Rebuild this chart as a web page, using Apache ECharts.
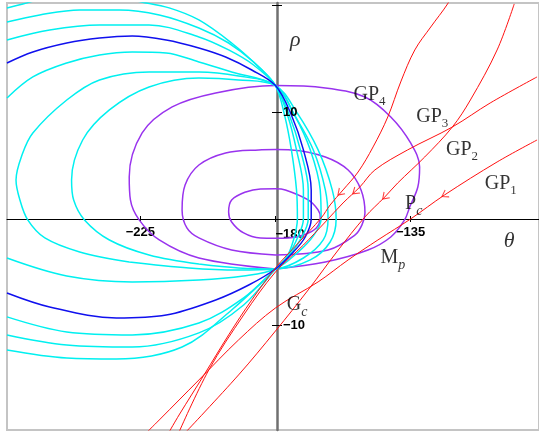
<!DOCTYPE html>
<html>
<head>
<meta charset="utf-8">
<script src="https://cdn.jsdelivr.net/npm/echarts@6.0.0/dist/echarts.min.js"></script>
<style>
html,body{margin:0;padding:0;background:#fff;}
#chart{width:539px;height:432px;}
</style>
</head>
<body>
<div id="chart"></div>
<script>
// Nichols-plane view: phase theta (deg) against gain rho (dB)
const thetaRange = [-269.4, -92.25];
const rhoRange = [-19.78, 20.24];
const thetaTickValues = [-225, -180, -135];
const thetaSideLabels = [-225, -135];
const thetaOriginLabel = [-180];
const rhoTickValues = [-10, 10, 20];
const rhoLabelValues = [-10, 10];

// constant-phase loci through the two common points
const locusA = [[-269.4,-12.28],[-249.5,-13.03],[-233.0,-13.12],[-211.1,-12.0],[-194.6,-8.53],[-180,-4.69],[-176.4,-3.66],[-174.0,-1.97],[-172.7,0],[-173.0,2.72],[-174.7,6.47],[-177.0,9.75],[-180,12.5],[-185.6,14.25],[-194.6,16.49],[-205.5,18.65],[-215.4,19.78],[-224.7,20.34],[-238.6,21.09],[-251.9,20.99],[-264.1,20.15],[-269.4,19.78]];
const locusB = [[-269.4,-10.87],[-249.5,-11.81],[-227.7,-12.0],[-205.5,-10.68],[-190.6,-8.06],[-180,-4.69],[-175.7,-3.37],[-172.7,-1.78],[-170.7,0],[-170.7,2.72],[-173.0,6.47],[-176.0,9.75],[-180,12.5],[-187.3,14.71],[-195.6,16.49],[-205.5,17.9],[-218.7,19.12],[-232.0,19.59],[-245.2,19.59],[-258.5,19.12],[-269.4,18.46]];
const locusC = [[-269.4,-9.18],[-249.5,-10.59],[-227.7,-10.87],[-205.5,-9.75],[-190.6,-7.4],[-180,-4.69],[-175.0,-3.28],[-171.4,-1.78],[-169.1,0],[-169.1,2.72],[-171.7,6.47],[-175.4,9.75],[-180,12.5],[-187.3,14.43],[-195.6,15.84],[-205.5,17.06],[-222.1,18.18],[-238.6,18.18],[-255.2,17.71],[-269.4,16.78]];
const locusD = [[-269.4,-6.94],[-255.2,-8.25],[-233.0,-9.28],[-216.4,-9.0],[-199.9,-7.59],[-188.9,-6.19],[-180,-4.69],[-174.0,-3.09],[-170.1,-1.69],[-168.1,0],[-168.1,2.72],[-170.7,6.47],[-174.7,9.75],[-180,12.5],[-187.9,13.96],[-196.6,15.18],[-205.5,16.03],[-216.4,16.78],[-227.7,17.15],[-238.6,16.96],[-249.5,16.49],[-260.8,15.65],[-269.4,14.62]];
const locusE = [[-269.4,-3.66],[-249.5,-5.34],[-227.7,-5.9],[-205.5,-5.72],[-190.6,-5.34],[-180,-4.69],[-172.4,-3.09],[-167.4,-1.59],[-164.8,0],[-165.1,2.72],[-168.4,6.47],[-173.7,9.75],[-180,12.5],[-194.6,13.78],[-205.5,14.71],[-216.4,15.56],[-227.7,15.65],[-238.6,15.37],[-249.5,14.62],[-260.8,13.31],[-269.4,11.34]];
const locusF = [[-228.7,-4.03],[-208.8,-4.59],[-192.3,-4.78],[-180,-4.69],[-170.7,-3.66],[-164.1,-1.97],[-162.5,0],[-163.4,2.72],[-167.4,6.47],[-173.7,9.75],[-180,12.5],[-192.3,13.4],[-205.5,13.78],[-222.1,13.78],[-238.6,13.03],[-249.5,11.15],[-260.8,8.06],[-264.4,6.0],[-266.4,3.66],[-265.1,1.78],[-262.5,-0.09],[-256.8,-1.78],[-245.2,-3.09],[-228.7,-4.03]];
const locusG = [[-205.5,-4.22],[-192.3,-4.59],[-180,-4.69],[-168.4,-3.84],[-161.8,-2.16],[-159.8,0],[-161.1,2.72],[-165.8,6.47],[-173.0,10.03],[-180,12.5],[-192.3,13.03],[-205.5,13.21],[-222.1,12.37],[-235.3,10.22],[-244.2,7.4],[-247.9,3.66],[-247.2,1.78],[-243.6,-0.09],[-235.3,-1.97],[-222.1,-3.37],[-205.5,-4.22]];

// constant-magnitude loci around the critical point
const magOuter = [[-180,-4.69],[-205.5,-3.66],[-218.7,-1.97],[-225.4,-0.09],[-228.3,1.78],[-228.7,3.94],[-224.4,8.06],[-214.4,10.5],[-199.9,11.81],[-180,12.5],[-163.4,12.28],[-150.2,11.43],[-141.6,9.56],[-135.0,7.12],[-132.0,4.87],[-132.6,3.0],[-135.3,1.12],[-137.0,-0.09],[-141.6,-1.69],[-149.2,-2.91],[-163.4,-4.03],[-180,-4.69]];
const magMiddle = [[-180,-3.37],[-194.6,-2.91],[-205.5,-1.78],[-209.5,-0.84],[-211.1,0.84],[-210.1,3.19],[-205.5,5.06],[-196.6,6.19],[-185.6,6.47],[-180,6.5],[-174.7,6.47],[-163.4,5.81],[-155.8,4.59],[-151.5,2.72],[-150.2,0.56],[-151.2,-0.56],[-153.5,-1.5],[-162.5,-2.91],[-180,-3.37]];
const magInner = [[-180,-1.8],[-185.0,-1.78],[-190.6,-1.31],[-194.6,-0.28],[-195.6,0.66],[-194.6,1.78],[-189.9,2.53],[-185.0,2.81],[-180,2.83],[-176.7,2.72],[-169.1,1.78],[-165.8,0.84],[-165.1,0.19],[-166.4,-0.84],[-170.7,-1.5],[-175.7,-1.78],[-180,-1.8]];

// open-loop responses GP1..GP4
const gp1 = [[-92.9,7.4],[-106.2,5.34],[-123.7,2.25],[-135.0,0],[-145.9,-1.97],[-155.8,-3.84],[-165.8,-5.9],[-180,-8.34],[-192.3,-11.34],[-205.5,-15.09],[-218.7,-18.84],[-223.7,-20.24]];
const gp2 = [[-100.5,20.15],[-106.2,15.84],[-115.1,11.15],[-121.1,8.62],[-130.3,5.81],[-139.3,3.37],[-143.6,2.06],[-150.2,0.19],[-159.1,-2.91],[-169.1,-6.65],[-180,-10.5],[-192.3,-14.62],[-209.8,-19.96]];
const gp3 = [[-92.9,13.31],[-108.5,10.87],[-121.1,8.62],[-136.0,6.47],[-146.9,4.59],[-151.9,3.0],[-157.5,1.5],[-163.4,-0.28],[-170.7,-2.44],[-180,-4.97],[-190.6,-9.0],[-202.2,-14.15],[-212.1,-19.96]];
const gp4 = [[-121.1,21.09],[-122.7,20.15],[-128.3,17.99],[-133.6,15.84],[-138.3,12.84],[-142.6,9.56],[-147.5,6.75],[-152.5,4.4],[-157.5,2.72],[-161.8,1.31],[-164.8,0.09],[-172.4,-2.25],[-180,-4.59],[-187.9,-7.59],[-195.6,-10.87],[-203.8,-14.62],[-212.1,-18.37],[-215.4,-19.96]];
const arrowTips = [[-123.7,2.25],[-143.6,2.06],[-153.5,2.53],[-158.5,2.44]];
const arrowAngles = [-60, -45, -50, -45];

// annotations
const notes = [
  {text: '{i|ρ}', at: [-173.4, 16.78], pos: 'inside'},
  {text: '{i|θ}', at: [-102.2, -2.06], pos: 'inside'},
  {text: '{m|GP}{s|4}', at: [-154.2, 11.62], pos: 'right'},
  {text: '{m|GP}{s|3}', at: [-133.3, 9.56], pos: 'right'},
  {text: '{m|GP}{s|2}', at: [-123.4, 6.47], pos: 'right'},
  {text: '{m|GP}{s|1}', at: [-110.5, 3.28], pos: 'right'},
  {text: '{m|P}{si|c}', at: [-137.0, 1.41], pos: 'right'},
  {text: '{m|M}{si|p}', at: [-145.2, -3.66], pos: 'right'},
  {text: '{m|G}{si|c}', at: [-176.4, -8.06], pos: 'right'}
];

const CYAN = '#00f0f0', BLUE = '#1010ee', PURPLE = '#9933ee', RED = '#ff1010';
const serif = '"Liberation Serif", "DejaVu Serif", serif';
const axisFont = {fontFamily: '"Liberation Sans", Arial, sans-serif', fontWeight: 'bold', fontSize: 13, color: '#000'};
const minus = v => (v < 0 ? '\u2212' + Math.abs(v) : String(v));

function curve(data, color, width, z) {
  return {type: 'line', data, symbol: 'none', smooth: 0.35, silent: true, z,
    lineStyle: {color, width}};
}

const series = [
  curve(magInner, PURPLE, 1.5, 2), curve(magMiddle, PURPLE, 1.5, 2), curve(magOuter, PURPLE, 1.5, 2),
  curve(locusA, CYAN, 1.5, 3), curve(locusB, CYAN, 1.5, 3), curve(locusC, CYAN, 1.5, 3),
  curve(locusE, CYAN, 1.5, 3), curve(locusF, CYAN, 1.5, 3), curve(locusG, CYAN, 1.5, 3),
  curve(locusD, BLUE, 1.5, 3),
  curve(gp1, RED, 1, 4), curve(gp2, RED, 1, 4), curve(gp3, RED, 1, 4), curve(gp4, RED, 1, 4),
  {type: 'scatter', silent: true, z: 5,
   symbol: 'path://M0,0L6,9L12,0', symbolSize: [8, 6],
   data: arrowTips.map((p, i) => ({value: p, symbolRotate: arrowAngles[i]})),
   itemStyle: {color: 'rgba(0,0,0,0)', borderColor: RED, borderWidth: 1}},
  {type: 'scatter', silent: true, z: 6, symbolSize: 1, itemStyle: {color: 'rgba(0,0,0,0)'},
   data: notes.map(n => ({value: n.at, label: {show: true, position: n.pos, distance: 0, formatter: n.text}})),
   label: {show: true, color: '#000', rich: {
     i: {fontFamily: serif, fontStyle: 'italic', fontSize: 22, color: '#000'},
     m: {fontFamily: serif, fontSize: 20, color: '#000'},
     s: {fontFamily: serif, fontSize: 13, color: '#000', padding: [14, 0, 0, 0]},
     si: {fontFamily: serif, fontStyle: 'italic', fontSize: 14, color: '#000', padding: [14, 0, 0, 0]}
   }}}
];

// the phase axis sits on rho = 0, the gain axis on theta = -180
const chart = echarts.init(document.getElementById('chart'), null, {renderer: 'canvas'});
chart.setOption({
  animation: false,
  backgroundColor: '#fff',
  grid: {left: 7, right: -3, top: 3, bottom: 2, show: true, borderColor: '#c4c4c4', borderWidth: 2, backgroundColor: 'transparent'},
  xAxis: [
    {type: 'value', min: thetaRange[0], max: thetaRange[1], position: 'bottom', offset: -211, splitLine: {show: false},
     axisLine: {onZero: false, lineStyle: {color: '#000', width: 1}},
     axisTick: {show: true, length: 3, customValues: thetaTickValues, lineStyle: {color: '#000'}},
     axisLabel: {customValues: thetaSideLabels, margin: 7, formatter: minus, ...axisFont}},
    {type: 'value', min: thetaRange[0], max: thetaRange[1], position: 'bottom', offset: -211, splitLine: {show: false},
     axisLine: {onZero: false, show: false},
     axisTick: {show: true, inside: true, length: 3, customValues: thetaTickValues, lineStyle: {color: '#000'}},
     axisLabel: {customValues: thetaOriginLabel, margin: 9, align: 'left', formatter: minus, ...axisFont}}
  ],
  yAxis: [
    {type: 'value', min: rhoRange[0], max: rhoRange[1], position: 'left', offset: -270, splitLine: {show: false},
     axisLine: {onZero: false, lineStyle: {color: '#707070', width: 2.5}},
     axisTick: {show: true, inside: true, length: 5, customValues: rhoTickValues, lineStyle: {color: '#000', width: 1}},
     axisLabel: {show: false}},
    {type: 'value', min: rhoRange[0], max: rhoRange[1], position: 'left', offset: -270, splitLine: {show: false}, z: 10,
     axisLine: {show: false, onZero: false},
     axisTick: {show: true, length: 5, customValues: rhoTickValues, lineStyle: {color: '#000', width: 1}},
     axisLabel: {inside: true, margin: 6, customValues: rhoLabelValues, formatter: minus, ...axisFont}}
  ],
  series
});
</script>
</body>
</html>
